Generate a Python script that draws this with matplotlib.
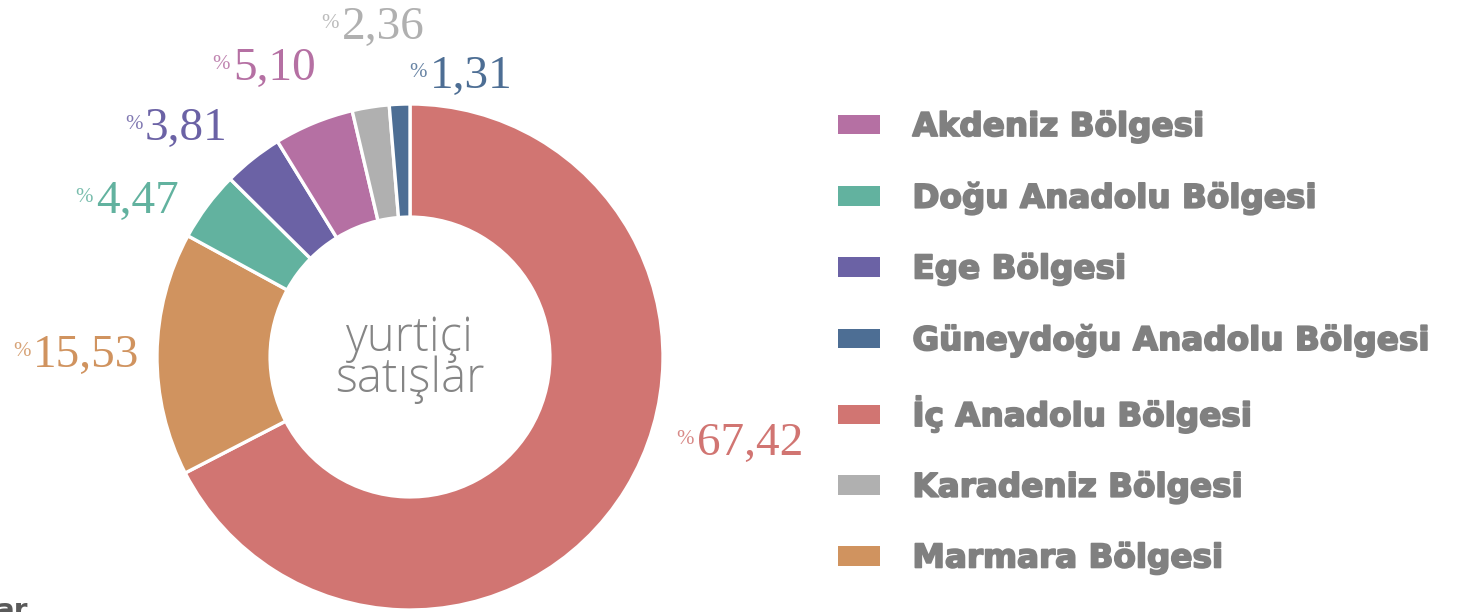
import matplotlib

matplotlib.use("Agg")
import matplotlib.pyplot as plt
import matplotlib.patheffects as pe
from matplotlib.patches import Patch

# legend order (alphabetical, as in the source)
regions = [
    "Akdeniz Bölgesi",
    "Doğu Anadolu Bölgesi",
    "Ege Bölgesi",
    "Güneydoğu Anadolu Bölgesi",
    "İç Anadolu Bölgesi",
    "Karadeniz Bölgesi",
    "Marmara Bölgesi",
]
shares = [5.10, 4.47, 3.81, 1.31, 67.42, 2.36, 15.53]
share_labels = ["5,10", "4,47", "3,81", "1,31", "67,42", "2,36", "15,53"]
colors = ["#b570a3", "#62b29f", "#6b62a5", "#4d6e94", "#d17572", "#b0b0b0", "#d0935f"]

# clockwise from 12 o'clock, as drawn in the ring
pie_order = [4, 6, 1, 2, 0, 5, 3]

# where each value label sits (left edge / baseline, in ring-radius units)
label_pos = {
    0: (-0.700, 1.095),
    1: (-1.241, 0.569),
    2: (-1.047, 0.858),
    3: (0.079, 1.063),
    4: (1.134, -0.387),
    5: (-0.269, 1.257),
    6: (-1.490, -0.040),
}

W, H = 1472, 612
fig = plt.figure(figsize=(W / 100, H / 100), dpi=100)
cx, cy, R = 410, 357, 253
ax = fig.add_axes([0, 0, 820 / W, 1])

ax.pie(
    [shares[i] for i in pie_order],
    colors=[colors[i] for i in pie_order],
    startangle=90,
    counterclock=False,
    radius=1.0,
    wedgeprops=dict(width=0.447, edgecolor="white", linewidth=2.4),
)
ax.set_xlim(-cx / R, (820 - cx) / R)
ax.set_ylim(-(H - cy) / R, cy / R)
ax.set_aspect("auto")
ax.axis("off")

serif = "Liberation Serif"
for i in range(len(regions)):
    x, y = label_pos[i]
    ax.text(x, y, share_labels[i], family=serif, fontsize=34, color=colors[i],
            ha="left", va="baseline")
    ax.annotate("%", (x, y), xytext=(-2, 8), textcoords="offset points",
                family=serif, fontsize=15, color=colors[i], alpha=0.85,
                ha="right", va="baseline")

ax.text(0, -0.01, "yurtiçi\nsatışlar", family="Open Sans", fontweight="light",
        fontsize=34, color="#858585", ha="center", va="center", linespacing=0.8)

handles = [Patch(facecolor=c, edgecolor="none") for c in colors]
leg = fig.legend(
    handles, regions, loc="upper left", bbox_to_anchor=(838 / W, 1 - 110 / H),
    frameon=False, handlelength=1.3, handleheight=0.55,
    handletextpad=0.98, labelspacing=1.155, borderaxespad=0, borderpad=0,
    prop=dict(family="DejaVu Sans", weight="bold", size=23.5),
)
for t in leg.get_texts():
    t.set_color("#808080")
    t.set_path_effects([pe.withStroke(linewidth=1.3, foreground="#808080")])

# cut-off fragment of a caption at the bottom-left edge
fig.text(-0.003, -0.022, "ar", family="DejaVu Sans", fontweight="bold",
         fontsize=20, color="#5a5a5a", ha="left", va="bottom")

fig.savefig("out.png", dpi=100)
